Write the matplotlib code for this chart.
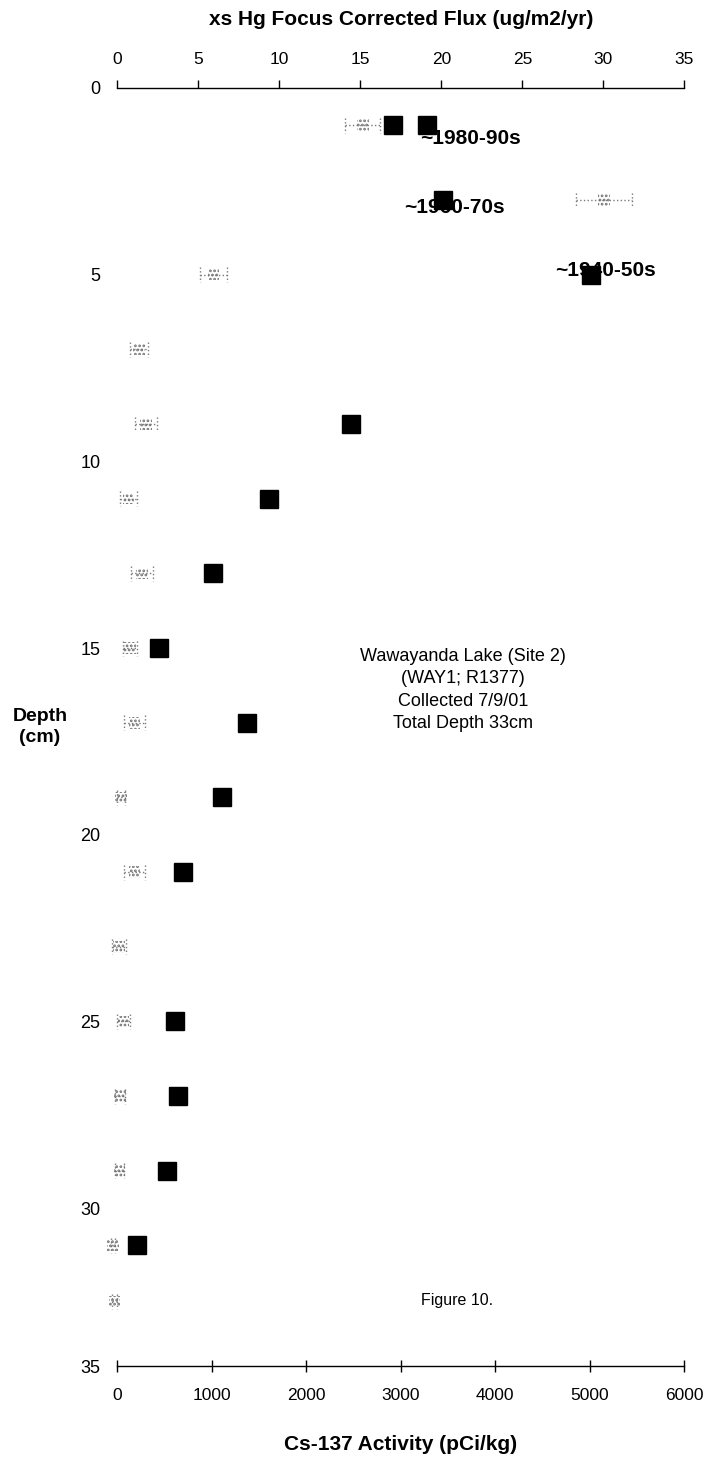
import numpy as np
import matplotlib
matplotlib.use("Agg")
import matplotlib.pyplot as plt

plt.rcParams['font.family'] = ['Liberation Sans', 'DejaVu Sans']
plt.rcParams['hatch.linewidth'] = 1.3

# ----- data -----
# xs Hg focus corrected flux (top axis), black squares
hg_depth = [1, 1, 3, 5, 9, 11, 13, 15, 17, 19, 21, 25, 27, 29, 31]
hg_flux = [17.0, 19.1, 20.1, 29.25, 14.4, 9.4, 5.9, 2.6, 8.0, 6.45, 4.05, 3.6, 3.75, 3.1, 1.25]

# Cs-137 activity (bottom axis) with error
cs_depth = [1, 3, 5, 7, 9, 11, 13, 15, 17, 19, 21, 23, 25, 27, 29, 31, 32.5]
cs_act = [2600, 5150, 1020, 235, 305, 120, 265, 140, 185, 40, 185, 20, 70, 30, 25, -40, -25]
cs_err = [185, 300, 140, 95, 115, 90, 115, 75, 110, 45, 110, 75, 70, 50, 48, 20, 26]

dates = ['~1980-90s', '~1960-70s', '~1940-50s']
date_x = [18.7, 17.7, 27.0]
date_y = [1.35, 3.2, 4.9]

hg_ticks = np.arange(0, 36, 5)
cs_ticks = np.arange(0, 6001, 1000)
depth_ticks = [0, 5, 10, 15, 20, 25, 30]
depth_bottom = 34.23   # bottom edge of the plot, labelled "35" in the original

fig = plt.figure(figsize=(7.08, 14.76), dpi=100)
ax = fig.add_axes([0.1653, 0.0745, 0.8015, 0.8659])

# ----- Cs-137 on the bottom axis (dotted look of the scanned original) -----
cs_act = np.array(cs_act)
cs_err = np.array(cs_err)
ax.hlines(cs_depth, cs_act - cs_err, cs_act + cs_err, colors='#7a7a7a', linestyles=':',
          linewidth=1.0, clip_on=False, zorder=2)
ax.vlines(np.r_[cs_act - cs_err, cs_act + cs_err], np.r_[cs_depth, cs_depth] - 0.2,
          np.r_[cs_depth, cs_depth] + 0.2, colors='#7a7a7a', linestyles=':',
          linewidth=1.0, clip_on=False, zorder=2)
ax.scatter(cs_act, cs_depth, marker='s', s=70, facecolors='none', edgecolors='#6e6e6e',
           linewidths=0, hatch='....', clip_on=False, zorder=3)
ax.set_xlim(0, 6000)
ax.set_xticks(cs_ticks)
ax.set_ylim(depth_bottom, 0)
ax.set_yticks(depth_ticks + [depth_bottom])
ax.set_yticklabels([str(t) for t in depth_ticks] + ['35'])
ax.set_yticks([5, 30], minor=True)
ax.tick_params(axis='y', which='major', length=0, pad=12, labelsize=13)
ax.tick_params(axis='y', which='minor', length=5, width=1, direction='out')
ax.tick_params(axis='x', which='major', direction='inout', length=9, width=1, labelsize=12.5, pad=11)
ax.set_xlabel('Cs-137 Activity (pCi/kg)', fontsize=15, fontweight='bold')
ax.xaxis.set_label_coords(0.5, -0.054)
ax.set_ylabel('Depth\n(cm)', fontsize=14, fontweight='bold', rotation=0, ha='center', va='center',
              linespacing=1.35)
ax.yaxis.set_label_coords(-0.136, 0.5)
for s in ['left', 'right', 'top']:
    ax.spines[s].set_visible(False)
ax.spines['bottom'].set_linewidth(1)

# ----- Hg flux on the top axis -----
ax2 = ax.twiny()
ax2.plot(hg_flux, hg_depth, 's', color='black', ms=13.5, zorder=4, clip_on=False)
for txt, x, y in zip(dates, date_x, date_y):
    ax2.text(x, y, txt, fontsize=15, fontweight='bold', ha='left', va='center', zorder=3)
ax2.set_xlim(0, 35)
ax2.set_xticks(hg_ticks)
ax2.tick_params(axis='x', direction='out', length=6, width=1, labelsize=12.5, pad=9)
ax2.set_xlabel('xs Hg Focus Corrected Flux (ug/m2/yr)', fontsize=15, fontweight='bold')
ax2.xaxis.set_label_coords(0.5, 1.0496)
for s in ['left', 'right', 'bottom']:
    ax2.spines[s].set_visible(False)
ax2.spines['top'].set_linewidth(1)

ax2.text(0.61, 0.529, 'Wawayanda Lake (Site 2)\n(WAY1; R1377)\nCollected 7/9/01\nTotal Depth 33cm',
         transform=ax.transAxes, fontsize=13, ha='center', va='center', linespacing=1.4)
ax2.text(0.535, 0.051, 'Figure 10.', transform=ax.transAxes, fontsize=11.5, ha='left', va='center')

fig.savefig('out.png', dpi=100)
